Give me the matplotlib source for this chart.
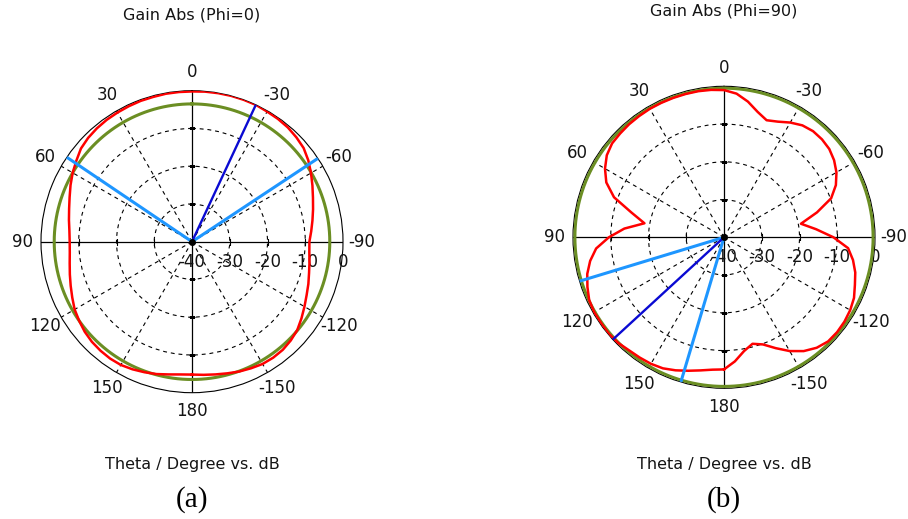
import numpy as np
import matplotlib
matplotlib.use("Agg")
import matplotlib.pyplot as plt

# theta sample positions (deg), CST convention: 0 at top, positive to the left
theta_deg = np.arange(-180, 185, 5)

# Gain Abs, Phi = 0 cut (dB)
gain_phi0 = [
    -4.8, -4.6, -4.3, -3.9, -3.4, -3.0, -2.6, -2.5, -2.6, -3.0,   # -180 .. -135
    -3.6, -4.6, -5.6, -6.5, -7.2, -7.9, -8.4, -8.8, -8.9, -8.3,   # -130 .. -85
    -7.6, -6.8, -5.9, -4.8, -3.6, -2.4, -1.4, -0.9, -0.5, -0.3,   # -80 .. -35
    -0.2, 0.0, 0.0, 0.0, -0.05, -0.1, -0.2, -0.2, -0.2, -0.3,     # -30 .. 15
    -0.3, -0.4, -0.5, -0.6, -0.8, -1.1, -1.6, -2.6, -3.5, -4.5,   # 20 .. 65
    -5.5, -6.3, -6.9, -7.4, -7.6, -7.5, -7.1, -6.5, -5.8, -5.0,   # 70 .. 115
    -4.1, -3.5, -2.9, -2.5, -2.3, -2.2, -2.3, -2.7, -3.2, -3.7,   # 120 .. 165
    -4.3, -4.7, -4.8,                                            # 170 .. 180
]

# Gain Abs, Phi = 90 cut (dB)
gain_phi90 = [
    -5.0, -7.0, -9.4, -10.8, -9.8, -7.6, -5.2, -3.2, -1.8, -1.0,  # -180 .. -135
    -0.9, -1.05, -1.4, -2.0, -3.1, -4.0, -5.3, -7.0, -11.0, -15.5,  # -130 .. -85
    -19.3, -14.5, -9.8, -7.3, -5.6, -4.4, -3.6, -3.3, -3.3, -3.8,  # -80 .. -35
    -4.9, -6.2, -7.0, -5.6, -3.5, -1.8, -1.0, -0.8, -0.7, -0.7,   # -30 .. 15
    -0.7, -0.7, -0.7, -0.8, -0.9, -1.1, -1.3, -2.1, -3.6, -5.6,   # 20 .. 65
    -9.0, -14.6, -18.6, -13.5, -9.5, -6.0, -4.0, -2.5, -1.5, -0.6,  # 70 .. 115
    -0.3, -0.3, -0.2, -0.4, -0.9, -1.1, -1.3, -1.7, -2.5, -3.4,   # 120 .. 165
    -4.2, -4.8, -5.0,                                            # 170 .. 180
]

# reference level circle, main lobe direction/magnitude, angular width limits
level_phi0 = -3.5
lobe_dir_phi0, lobe_mag_phi0 = -25.0, 0.0
width_phi0 = [56.0, -56.5]

level_phi90 = -0.5
lobe_dir_phi90, lobe_mag_phi90 = 132.6, -0.1
width_phi90 = [106.9, 163.4]

angle_ticks = [0, 30, 60, 90, 120, 150, 180, -30, -60, -90, -120, -150]
db_ticks = [-40, -30, -20, -10, 0]
r_min, r_max = -40, 0

W, H = 908, 519
TXT = "#141414"


def polar_gain(ax, gain, level, lobe_dir, lobe_mag, width):
    ax.set_theta_zero_location("N")
    ax.set_theta_direction(1)
    ax.set_rlim(r_min, r_max)
    ax.spines["polar"].set_linewidth(0.8)
    ax.spines["polar"].set_color("black")

    # dashed rings and spokes
    ax.set_rgrids([-30, -20, -10], labels=[""] * 3)
    ax.set_thetagrids([30, 60, 120, 150, 210, 240, 300, 330], labels=[""] * 8)
    ax.grid(True, color="black", linestyle=(0, (3.5, 3.5)), linewidth=0.8)
    ax.tick_params(length=0)

    # solid cross through the origin with small ticks at each ring
    for a in (0, 90, 180, 270):
        t = np.radians(a)
        ax.plot([t, t], [r_min, r_max], color="black", lw=0.9, zorder=3)
        ax.plot([t] * 3, [-30, -20, -10], ls="none", color="black",
                marker="_" if a in (0, 180) else "|", ms=4, mew=0.8, zorder=3)

    full = np.radians(np.arange(0, 361))
    ax.plot(full, np.full(full.size, level), color="#6b8e23", lw=2.2, zorder=4)

    t = np.radians(theta_deg)
    ax.plot(t, gain, color="#ff0000", lw=1.8, zorder=5)

    for a in width:
        ax.plot([np.radians(a)] * 2, [r_min, r_max], color="#1e96ff", lw=2.2, zorder=6)
    ax.plot([np.radians(lobe_dir)] * 2, [r_min, lobe_mag], color="#0a0ad2", lw=1.7, zorder=7)
    ax.plot([0], [r_min], "o", color="black", ms=4, zorder=8)

    # angle labels round the rim
    for a in angle_ticks:
        ax.text(np.radians(a), 4.9, str(a), ha="center", va="center",
                fontsize=12, color=TXT, clip_on=False)
    # dB labels under the right half of the horizontal axis
    for r in db_ticks:
        ax.annotate(str(r), xy=(np.radians(-90), r), xytext=(0, -14.5),
                    textcoords="offset points", ha="center", va="center",
                    fontsize=12, color=TXT, annotation_clip=False)


fig = plt.figure(figsize=(W / 100, H / 100), dpi=100)
fig.patch.set_facecolor("white")

R = 151
panels = [
    (192, 241.7, gain_phi0, level_phi0, lobe_dir_phi0, lobe_mag_phi0, width_phi0,
     "Gain Abs (Phi=0)", 15, "(a)"),
    (724, 237.3, gain_phi90, level_phi90, lobe_dir_phi90, lobe_mag_phi90, width_phi90,
     "Gain Abs (Phi=90)", 11, "(b)"),
]
for cx, cy, gain, level, ldir, lmag, width, title, ty, cap in panels:
    ax = fig.add_axes([(cx - R) / W, 1 - (cy + R) / H, 2 * R / W, 2 * R / H],
                      projection="polar")
    polar_gain(ax, gain, level, ldir, lmag, width)
    fig.text(cx / W, 1 - ty / H, title, ha="center", va="center",
             fontsize=11.5, color=TXT)
    fig.text(cx / W, 1 - 465 / H, "Theta / Degree vs. dB", ha="center",
             va="center", fontsize=11.5, color=TXT)
    fig.text(cx / W, 1 - 500 / H, cap, ha="center", va="center",
             fontsize=21, family="Liberation Serif", color="black")

fig.savefig("out.png", dpi=100, facecolor="white")
